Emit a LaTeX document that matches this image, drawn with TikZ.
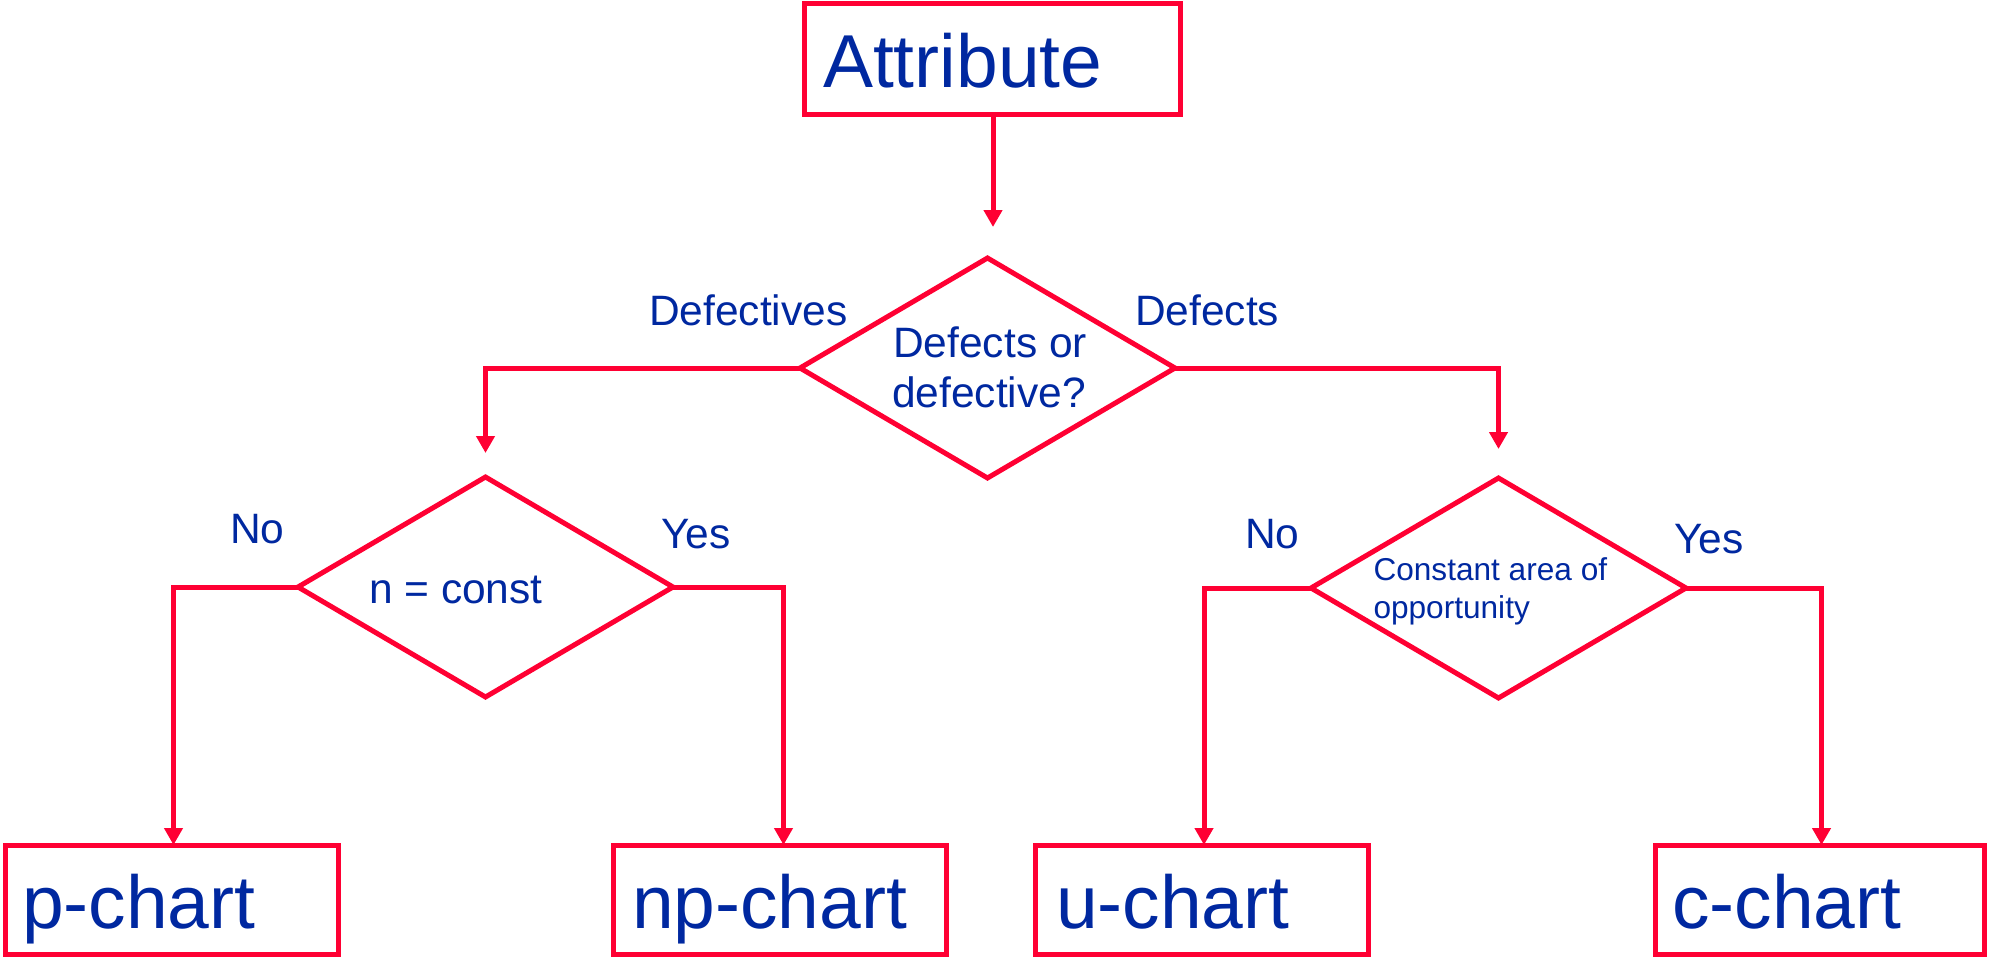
\documentclass[tikz,border=0pt]{standalone}
\usepackage{fontspec}
\setmainfont{Liberation Sans}
\usetikzlibrary{arrows.meta,shapes.geometric}
\definecolor{flowred}{HTML}{FF0033}
\definecolor{flowblue}{HTML}{0028A0}
\begin{document}
\begin{tikzpicture}[x=0.5pt,y=-0.5pt,
  every node/.style={inner sep=0pt,outer sep=0pt},
  chartbox/.style={draw=flowred,line width=2.5pt,rectangle,anchor=north west,minimum height=54.5pt},
  decision/.style={draw=flowred,line width=2.5pt,diamond,minimum width=187.5pt,minimum height=110pt},
  bigtext/.style={text=flowblue,anchor=base west,font=\fontsize{37.5}{45}\selectfont},
  midtext/.style={text=flowblue,font=\fontsize{21.25}{25}\selectfont},
  smalltext/.style={text=flowblue,anchor=base west,font=\fontsize{15.8}{19}\selectfont},
  flow/.style={draw=flowred,line width=2.5pt,-{Triangle[width=9pt,length=8.5pt]}}]
\useasboundingbox (0,0) rectangle (1990,958);

% top box
\node[chartbox,minimum width=187.75pt,minimum height=55.5pt] (attr) at (804.5,3.5) {};
\node[bigtext] (attrtext) at (823,87) {Attribute};

% decisions
\node[decision] (d1) at (987.5,368) {};
\node[decision] (d2) at (485.5,587) {};
\node[decision] (d3) at (1498.5,588) {};

\node[midtext,anchor=base] (d1a) at (990,357) {Defects or};
\node[midtext,anchor=base] (d1b) at (989,407) {defective?};
\node[midtext,anchor=base west] (d2text) at (369,603) {n = const};
\node[smalltext] (d3a) at (1373.5,580) {Constant area of};
\node[smalltext] (d3b) at (1373.5,618) {opportunity};

% branch labels
\node[midtext,anchor=base west] (ldefv) at (649,325) {Defectives};
\node[midtext,anchor=base west] (ldef) at (1135,325) {Defects};
\node[midtext,anchor=base west] (lno1) at (230,543) {No};
\node[midtext,anchor=base west] (lyes1) at (661,548) {Yes};
\node[midtext,anchor=base west] (lno2) at (1245,548) {No};
\node[midtext,anchor=base west] (lyes2) at (1674,553) {Yes};

% result boxes
\node[chartbox,minimum width=166.5pt] (pc) at (5,845) {};
\node[bigtext] (pctext) at (22,928) {p-chart};
\node[chartbox,minimum width=166.5pt] (npc) at (613,845) {};
\node[bigtext] (npctext) at (632,928) {np-chart};
\node[chartbox,minimum width=166.5pt] (uc) at (1035.5,845) {};
\node[bigtext] (uctext) at (1056,928) {u-chart};
\node[chartbox,minimum width=164.5pt] (cc) at (1655,845) {};
\node[bigtext] (cctext) at (1672,928) {c-chart};

% free ends of the arrows that stop short of a shape
\coordinate (attrtip) at (993,227);
\coordinate (lefttip) at (485.5,453);
\coordinate (righttip) at (1498.5,449);

% connectors
\draw[flow] (attr.south -| attrtip) -- (attrtip);
\draw[flow] (d1.west) -| (lefttip);
\draw[flow] (d1.east) -| (righttip);
\draw[flow] (d2.west) -| ([xshift=1pt]pc.north);
\draw[flow] (d2.east) -| ([xshift=2pt]npc.north);
\draw[flow] (d3.west) -| ([xshift=1pt]uc.north);
\draw[flow] (d3.east) -| ([xshift=1pt]cc.north);
\end{tikzpicture}
\end{document}
